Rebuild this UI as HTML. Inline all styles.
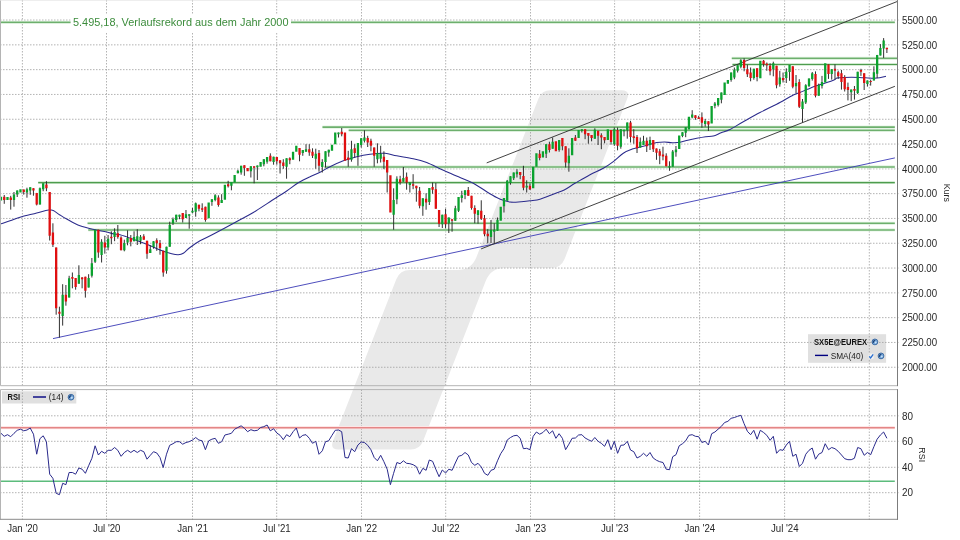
<!DOCTYPE html>
<html lang="de"><head><meta charset="utf-8"><title>SX5E Chart</title>
<style>html,body{margin:0;padding:0;background:#fff}svg{display:block}</style></head>
<body>
<svg width="960" height="540" viewBox="0 0 960 540" font-family="'Liberation Sans', Arial, sans-serif">
<rect width="960" height="540" fill="#fff"/>
<path d="M538.4 98.7Q541.7 90.3 550.7 90.3L621.5 90.3Q630.5 90.3 627.2 98.7L564.7 258.7Q561.0 268.0 551.0 268.0L504.8 268.0Q490.8 268.0 485.7 281.0L423.1 441.1Q419.8 449.5 410.8 449.5L338.7 449.5Q329.7 449.5 333.0 441.1L396.3 279.3Q399.9 270.0 409.9 270.0L457.4 270.0Q471.4 270.0 476.5 257.0Z" fill="#e9e9e9"/>
<rect x="808" y="334.2" width="78.1" height="28.6" fill="#e0e0e0"/>
<rect x="2" y="391.3" width="74.3" height="12.2" fill="#e0e0e0"/>
<g stroke="#9a9a9a" stroke-width="0.75" stroke-dasharray="1.5 1.5" fill="none">
<path d="M0 20.05H899.3"/>
<path d="M0 44.85H899.3"/>
<path d="M0 69.65H899.3"/>
<path d="M0 94.45H899.3"/>
<path d="M0 119.25H899.3"/>
<path d="M0 144.05H899.3"/>
<path d="M0 168.85H899.3"/>
<path d="M0 193.65H899.3"/>
<path d="M0 218.45H899.3"/>
<path d="M0 243.25H899.3"/>
<path d="M0 268.05H899.3"/>
<path d="M0 292.85H899.3"/>
<path d="M0 317.65H899.3"/>
<path d="M0 342.45H899.3"/>
<path d="M0 367.25H899.3"/>
<path d="M22.40 0V385.5"/>
<path d="M22.40 389.5V521"/>
<path d="M106.50 0V385.5"/>
<path d="M106.50 389.5V521"/>
<path d="M192.50 0V385.5"/>
<path d="M192.50 389.5V521"/>
<path d="M276.70 0V385.5"/>
<path d="M276.70 389.5V521"/>
<path d="M361.50 0V385.5"/>
<path d="M361.50 389.5V521"/>
<path d="M445.70 0V385.5"/>
<path d="M445.70 389.5V521"/>
<path d="M530.50 0V385.5"/>
<path d="M530.50 389.5V521"/>
<path d="M614.60 0V385.5"/>
<path d="M614.60 389.5V521"/>
<path d="M699.60 0V385.5"/>
<path d="M699.60 389.5V521"/>
<path d="M784.60 0V385.5"/>
<path d="M784.60 389.5V521"/>
<path d="M869.30 0V385.5"/>
<path d="M869.30 389.5V521"/>
<path d="M0 415.80H899.3"/>
<path d="M0 441.30H899.3"/>
<path d="M0 467.30H899.3"/>
<path d="M0 492.70H899.3"/>
</g>
<g stroke="#e2f3e2" stroke-width="3" fill="none" stroke-opacity="0.9">
<path d="M0.0 22.30H894.8"/>
<path d="M731.8 58.30H897.0"/>
<path d="M732.5 64.45H897.0"/>
<path d="M322.5 127.10H894.8"/>
<path d="M348.7 130.30H894.8"/>
<path d="M324.5 166.90H894.8"/>
<path d="M38.2 182.60H894.8"/>
<path d="M87.6 223.20H894.8"/>
<path d="M88.3 229.90H894.8"/>
</g>
<g stroke="#7cc47c" stroke-width="2.2" fill="none" stroke-opacity="0.25">
<path d="M0.0 22.30H894.8"/>
<path d="M731.8 58.30H897.0"/>
<path d="M732.5 64.45H897.0"/>
<path d="M322.5 127.10H894.8"/>
<path d="M348.7 130.30H894.8"/>
<path d="M324.5 166.90H894.8"/>
<path d="M38.2 182.60H894.8"/>
<path d="M87.6 223.20H894.8"/>
<path d="M88.3 229.90H894.8"/>
</g>
<g stroke="#4e9c4e" stroke-width="1.05" fill="none">
<path d="M0.0 22.30H894.8"/>
<path d="M731.8 58.30H897.0"/>
<path d="M732.5 64.45H897.0"/>
<path d="M322.5 127.10H894.8"/>
<path d="M348.7 130.30H894.8"/>
<path d="M324.5 166.90H894.8"/>
<path d="M38.2 182.60H894.8"/>
<path d="M87.6 223.20H894.8"/>
<path d="M88.3 229.90H894.8"/>
</g>
<rect x="70.6" y="14" width="220.4" height="18" fill="#fff"/>
<text x="73" y="26.3" font-size="10.9" fill="#3c8c3c" textLength="215.5" lengthAdjust="spacingAndGlyphs">5.495,18, Verlaufsrekord aus dem Jahr 2000</text>
<path d="M53 338.6L894.9 157.9" stroke="#3a3ab6" stroke-width="0.9" fill="none"/>
<path d="M486.7 162.9L897.5 1.4" stroke="#2c2c2c" stroke-width="0.9" fill="none"/>
<path d="M481.1 248.9L894.9 86.3" stroke="#2c2c2c" stroke-width="0.9" fill="none"/>
<path d="M0.0 224.2C1.7 223.6 6.4 222.1 10.0 220.8C13.6 219.6 17.2 218.0 21.7 216.7C26.1 215.4 32.7 214.1 36.7 213.0C40.7 211.9 43.6 210.9 45.8 210.4C48.0 209.9 48.8 210.1 50.0 210.1C51.2 210.1 51.6 209.7 53.3 210.5C55.0 211.3 57.8 213.6 60.0 215.0C62.2 216.4 63.4 217.2 66.7 219.0C70.0 220.8 75.3 224.0 80.0 225.8C84.7 227.6 90.5 228.7 95.0 229.7C99.5 230.7 103.4 231.2 106.7 232.0C110.0 232.8 112.8 233.8 115.0 234.2C117.2 234.6 117.0 233.9 120.0 234.7C123.0 235.5 128.9 237.6 133.3 239.2C137.8 240.8 142.2 242.4 146.7 244.2C151.1 246.0 155.8 248.4 160.0 250.0C164.2 251.6 168.6 252.9 171.7 253.7C174.8 254.5 176.4 254.8 178.3 254.7C180.2 254.6 181.4 254.5 183.3 253.3C185.2 252.1 187.2 249.6 190.0 247.5C192.8 245.4 195.8 243.2 200.0 240.8C204.2 238.4 209.2 236.4 215.0 233.3C220.8 230.2 228.6 226.0 235.0 222.5C241.4 219.0 247.5 216.0 253.3 212.5C259.1 209.0 264.4 205.3 270.0 201.7C275.6 198.1 282.0 194.2 286.7 191.0C291.4 187.8 294.4 185.2 298.3 182.8C302.2 180.4 306.4 178.4 310.0 176.7C313.6 174.9 316.7 174.0 320.0 172.3C323.3 170.6 326.1 168.6 330.0 166.7C333.9 164.8 338.9 162.5 343.3 160.8C347.8 159.1 352.2 157.8 356.7 156.7C361.1 155.6 365.3 154.8 370.0 154.2C374.7 153.6 380.6 153.0 385.0 153.3C389.4 153.6 392.0 154.9 396.7 155.8C401.4 156.7 408.3 157.6 413.3 158.7C418.3 159.8 422.2 160.8 426.7 162.5C431.1 164.2 436.7 167.2 440.0 168.7C443.3 170.2 443.4 170.2 446.7 171.7C450.0 173.2 455.6 175.6 460.0 177.5C464.4 179.4 468.9 180.9 473.3 183.3C477.8 185.7 482.8 189.3 486.7 191.7C490.6 194.1 493.9 196.1 496.7 197.5C499.5 198.9 501.1 199.6 503.3 200.3C505.5 201.1 507.5 201.7 510.0 202.0C512.5 202.3 515.0 202.2 518.3 202.0C521.6 201.8 526.4 201.3 530.0 200.8C533.6 200.3 536.7 200.1 540.0 199.2C543.3 198.3 547.2 196.6 550.0 195.5C552.8 194.4 554.6 193.7 557.0 192.8C559.4 191.9 561.2 191.6 564.2 190.0C567.2 188.4 570.7 185.9 575.0 183.3C579.3 180.8 585.3 177.2 590.0 174.7C594.7 172.2 599.4 170.5 603.3 168.3C607.2 166.1 610.0 164.2 613.3 161.7C616.6 159.2 620.0 155.5 623.3 153.3C626.6 151.1 630.0 149.9 633.3 148.7C636.6 147.5 640.5 147.0 643.3 146.3C646.1 145.6 647.8 145.0 650.0 144.4C652.2 143.8 654.3 143.0 656.7 142.6C659.1 142.2 661.8 142.0 664.4 142.0C667.0 142.0 669.6 142.6 672.2 142.7C674.8 142.8 677.4 142.7 680.0 142.3C682.6 141.9 685.0 140.9 687.8 140.2C690.6 139.5 693.7 138.9 696.7 138.3C699.7 137.7 702.8 137.1 705.6 136.7C708.4 136.3 710.7 136.8 713.3 136.1C715.9 135.4 718.3 133.9 721.1 132.8C723.9 131.7 726.3 131.3 730.0 129.5C733.7 127.7 738.3 124.5 743.3 121.7C748.3 118.9 754.4 115.4 760.0 112.5C765.6 109.6 771.2 107.1 776.7 104.2C782.2 101.3 789.4 97.0 793.3 95.0C797.2 93.0 797.6 93.5 800.0 92.5C802.4 91.5 804.9 90.3 807.4 89.3C809.9 88.3 812.3 87.2 814.8 86.3C817.3 85.4 819.0 85.1 822.2 84.1C825.4 83.0 831.5 81.0 834.0 80.0C836.5 79.0 835.3 78.5 837.0 78.1C838.7 77.7 840.7 77.5 844.4 77.4C848.1 77.3 855.1 77.3 859.3 77.4C863.5 77.5 866.6 78.0 869.6 78.1C872.6 78.2 874.3 78.4 877.0 78.1C879.7 77.8 884.5 76.5 886.0 76.2" stroke="#2b2b8c" stroke-width="1.05" fill="none"/>
<path d="M4.25 195.0V203.8M10.73 195.8V209.6M13.98 192.0V206.7M17.23 190.4V197.0M23.71 189.6V194.6M26.96 187.7V197.7M30.21 187.3V194.8M33.45 188.2V195.7M36.70 192.9V205.4M39.94 187.5V204.6M43.19 183.3V191.2M46.43 181.2V191.2M49.68 192.1V240.5M52.92 223.3V247.0M56.16 247.5V314.7M59.41 306.7V337.6M62.66 284.2V325.6M65.90 285.0V305.7M69.14 275.8V297.5M72.39 272.5V288.3M75.64 278.0V289.7M78.88 265.3V283.7M82.12 277.0V288.3M85.37 276.7V297.6M88.62 274.2V287.5M91.86 258.0V277.5M95.11 229.7V263.0M98.35 229.7V257.8M101.59 239.2V262.5M104.84 235.8V253.7M108.09 235.0V250.3M111.33 231.3V244.2M114.58 228.3V241.2M117.82 225.0V238.7M121.06 236.3V250.3M124.31 239.7V251.3M127.56 230.3V245.3M130.80 235.0V246.3M134.05 231.3V241.2M137.29 229.2V245.0M140.53 235.0V244.2M143.78 234.2V239.7M147.03 240.8V258.8M150.27 245.3V253.0M153.52 241.2V248.7M156.76 238.3V250.8M160.00 240.0V254.7M163.25 250.8V276.7M166.50 246.7V273.7M169.74 221.7V246.7M172.99 217.5V225.0M176.23 214.7V222.0M179.47 214.7V219.2M182.72 213.0V222.5M185.97 210.0V218.0M189.21 214.2V228.7M192.46 208.0V213.0M195.70 202.5V216.7M198.94 204.7V211.3M202.19 203.3V212.0M205.44 206.7V221.7M211.93 199.2V205.8M215.17 194.2V201.3M218.42 195.3V206.7M221.66 194.2V203.0M228.15 180.8V187.5M231.40 182.0V190.3M237.89 169.7V173.3M241.13 165.8V174.7M244.38 165.3V175.8M250.87 166.2V177.5M254.11 166.3V183.3M257.36 165.5V180.0M263.85 159.2V166.3M267.09 157.0V163.7M270.34 153.3V161.3M273.58 156.7V164.7M276.82 157.0V164.7M280.07 160.2V173.5M283.31 159.2V168.8M286.56 158.3V178.7M289.81 157.3V164.2M299.54 148.0V161.3M302.79 150.0V155.8M306.03 144.2V151.7M309.28 144.2V155.8M312.52 148.3V158.0M315.76 148.7V168.7M319.01 150.0V171.7M322.25 159.2V172.5M325.50 151.3V167.5M328.75 149.7V156.7M338.48 132.5V137.5M341.73 128.0V136.3M348.22 150.8V166.7M351.46 140.8V161.7M354.70 144.2V157.5M357.95 143.0V165.8M361.19 138.3V147.5M364.44 130.3V142.5M367.69 135.8V147.0M370.93 138.7V151.3M374.18 147.5V166.7M377.42 143.3V163.3M380.67 145.8V162.5M383.91 151.3V169.2M387.16 160.0V192.5M393.65 188.3V229.7M396.89 176.3V204.2M400.13 175.8V184.7M403.38 167.0V181.7M406.62 172.5V189.7M409.87 182.5V192.5M413.12 174.2V189.2M416.36 185.8V201.7M419.61 187.0V208.3M422.85 198.3V215.8M426.10 193.3V209.7M429.34 188.0V205.0M432.59 182.5V193.7M435.83 183.0V208.7M439.07 210.0V227.0M442.32 214.7V228.0M445.56 208.7V228.3M448.81 217.5V233.0M452.06 219.2V231.7M455.30 205.8V220.8M458.55 197.0V212.0M461.79 190.8V202.5M465.04 190.3V199.2M468.28 187.0V195.8M471.53 195.8V209.7M474.77 205.3V223.3M478.02 210.3V223.7M481.26 200.3V220.0M484.50 215.0V236.3M487.75 229.2V243.3M491.00 220.0V243.0M494.24 223.3V243.7M497.49 217.5V230.8M503.98 198.0V212.5M507.22 180.0V200.8M510.47 176.3V184.7M513.71 172.5V180.0M516.96 169.2V177.5M520.20 172.0V179.2M523.45 165.8V190.3M526.69 180.3V192.5M529.94 183.3V190.0M539.67 150.0V160.3M546.16 144.2V158.0M549.40 141.7V152.5M552.65 137.5V148.7M559.14 140.0V151.7M562.38 138.0V150.3M565.63 146.3V167.5M568.88 148.3V171.7M575.37 135.0V140.8M581.86 129.2V132.5M585.10 129.2V139.2M588.35 133.0V143.7M591.59 135.0V141.3M594.84 128.3V138.7M598.08 130.8V145.0M601.33 133.3V149.2M604.57 137.0V143.3M611.06 130.0V144.7M614.31 127.5V145.8M617.55 127.5V150.3M620.80 129.2V148.7M624.04 129.7V136.3M627.28 122.5V138.7M630.53 120.8V142.5M633.77 129.2V143.7M637.02 135.0V153.0M640.26 137.5V147.5M643.51 135.8V145.0M646.75 137.5V152.0M650.00 136.7V150.0M653.25 140.0V152.0M656.49 148.5V159.8M659.74 148.9V164.2M662.98 146.7V160.3M666.23 153.3V166.3M669.47 161.3V170.8M672.72 150.0V166.7M675.96 146.0V156.7M682.45 132.2V137.2M685.70 127.2V137.2M692.19 110.2V118.3M695.43 115.3V119.8M698.68 115.8V118.9M701.92 112.4V127.7M705.17 118.9V126.7M708.41 121.3V131.0M714.90 102.0V108.3M718.14 98.0V106.5M721.39 92.5V103.3M731.12 72.5V81.7M734.37 67.5V79.2M737.62 65.3V72.5M740.86 59.2V68.3M744.11 58.3V71.3M747.35 64.7V77.0M750.60 67.5V81.3M753.84 68.7V79.7M757.09 68.3V81.3M763.58 60.0V66.7M766.82 62.5V70.8M770.07 63.3V75.3M773.31 61.7V76.3M776.56 65.8V88.3M779.80 70.8V86.7M783.05 72.5V82.5M786.29 68.3V83.0M789.54 65.0V80.8M792.78 66.3V88.3M796.02 75.0V93.3M799.27 79.2V108.0M802.51 99.0V122.5M805.76 84.2V104.0M809.00 78.4V87.0M812.25 72.0V80.6M815.50 71.4V97.4M818.74 83.6V95.8M821.99 75.9V88.5M828.48 64.4V78.9M831.72 69.3V79.6M834.97 64.4V79.6M838.21 70.7V78.9M841.46 70.0V89.6M844.70 75.2V91.5M847.95 82.6V100.4M851.19 89.6V101.1M854.44 86.0V99.6M857.68 71.8V94.0M860.93 68.8V75.9M864.17 73.3V90.0M867.42 80.4V86.6M870.66 79.6V85.6M873.90 66.3V80.4M877.15 54.9V78.1M880.39 44.1V55.5M883.64 38.1V57.9M886.88 47.8V53.0" stroke="#262626" stroke-width="0.95" fill="none"/>
<path d="M-0.15 196.8h2.3v3.6h-2.3zM6.34 197.0h2.3v3.0h-2.3zM12.83 194.6h2.3v5.4h-2.3zM16.08 190.4h2.3v4.2h-2.3zM19.32 189.3h2.3v3.2h-2.3zM25.81 189.3h2.3v3.2h-2.3zM29.06 187.3h2.3v3.1h-2.3zM38.79 188.3h2.3v16.3h-2.3zM42.04 183.3h2.3v5.9h-2.3zM61.51 294.7h2.3v21.4h-2.3zM67.99 278.3h2.3v19.2h-2.3zM77.73 275.0h2.3v8.7h-2.3zM87.47 278.0h2.3v9.5h-2.3zM90.71 263.3h2.3v12.5h-2.3zM93.95 229.7h2.3v32.0h-2.3zM100.44 241.7h2.3v13.3h-2.3zM106.94 238.7h2.3v8.8h-2.3zM113.42 232.0h2.3v5.0h-2.3zM123.16 243.0h2.3v7.3h-2.3zM126.41 238.0h2.3v4.5h-2.3zM132.90 237.0h2.3v4.2h-2.3zM136.14 236.3h2.3v4.5h-2.3zM139.38 236.7h2.3v4.1h-2.3zM149.12 249.2h2.3v3.8h-2.3zM152.37 241.2h2.3v5.8h-2.3zM165.34 246.7h2.3v24.1h-2.3zM168.59 225.0h2.3v21.7h-2.3zM171.84 219.2h2.3v4.1h-2.3zM175.08 214.7h2.3v5.3h-2.3zM178.32 214.7h2.3v2.0h-2.3zM184.81 214.2h2.3v3.8h-2.3zM188.06 214.2h2.3v1.6h-2.3zM191.31 210.8h2.3v1.7h-2.3zM194.55 203.3h2.3v8.4h-2.3zM207.53 202.5h2.3v15.8h-2.3zM210.78 199.2h2.3v2.8h-2.3zM214.02 195.3h2.3v4.7h-2.3zM220.51 200.0h2.3v3.0h-2.3zM223.75 184.7h2.3v15.0h-2.3zM230.25 182.0h2.3v3.8h-2.3zM233.49 175.0h2.3v7.5h-2.3zM236.74 170.8h2.3v2.5h-2.3zM239.98 165.8h2.3v6.7h-2.3zM249.72 166.2h2.3v5.1h-2.3zM256.21 165.5h2.3v1.7h-2.3zM259.45 162.0h2.3v4.7h-2.3zM262.70 159.2h2.3v5.0h-2.3zM265.94 157.0h2.3v4.7h-2.3zM272.43 156.7h2.3v5.3h-2.3zM285.41 158.3h2.3v8.4h-2.3zM291.90 151.7h2.3v8.0h-2.3zM295.15 145.8h2.3v5.9h-2.3zM301.64 150.0h2.3v3.0h-2.3zM304.88 149.2h2.3v2.5h-2.3zM314.62 153.7h2.3v5.0h-2.3zM321.11 162.0h2.3v5.0h-2.3zM324.35 151.3h2.3v10.7h-2.3zM327.60 149.7h2.3v2.8h-2.3zM330.84 144.7h2.3v6.1h-2.3zM334.09 132.5h2.3v11.7h-2.3zM337.33 132.5h2.3v1.7h-2.3zM350.31 149.2h2.3v10.5h-2.3zM356.80 143.0h2.3v12.8h-2.3zM360.05 138.3h2.3v6.7h-2.3zM363.29 137.5h2.3v3.3h-2.3zM376.27 153.0h2.3v6.2h-2.3zM379.52 153.7h2.3v5.0h-2.3zM392.50 200.0h2.3v14.7h-2.3zM395.74 178.7h2.3v20.5h-2.3zM402.23 178.0h2.3v3.7h-2.3zM408.72 182.5h2.3v2.5h-2.3zM421.70 198.3h2.3v8.0h-2.3zM428.19 188.0h2.3v14.0h-2.3zM441.17 214.7h2.3v9.5h-2.3zM447.66 217.5h2.3v5.8h-2.3zM454.15 208.3h2.3v12.5h-2.3zM457.40 197.0h2.3v13.8h-2.3zM460.64 195.3h2.3v2.7h-2.3zM463.89 190.3h2.3v4.7h-2.3zM476.87 210.3h2.3v4.7h-2.3zM489.85 230.0h2.3v7.0h-2.3zM493.09 229.7h2.3v2.0h-2.3zM496.34 219.7h2.3v11.1h-2.3zM499.58 206.7h2.3v14.1h-2.3zM502.83 198.0h2.3v8.3h-2.3zM506.07 180.8h2.3v20.0h-2.3zM509.32 176.3h2.3v6.7h-2.3zM512.56 172.5h2.3v5.8h-2.3zM515.81 171.7h2.3v2.5h-2.3zM525.54 185.8h2.3v1.7h-2.3zM532.03 166.8h2.3v21.4h-2.3zM535.28 153.3h2.3v13.4h-2.3zM541.76 151.3h2.3v6.2h-2.3zM545.01 144.2h2.3v9.5h-2.3zM551.50 141.7h2.3v7.0h-2.3zM557.99 140.0h2.3v10.0h-2.3zM567.73 155.8h2.3v7.5h-2.3zM570.97 138.0h2.3v17.3h-2.3zM577.46 130.0h2.3v8.0h-2.3zM580.71 129.2h2.3v1.6h-2.3zM593.69 129.7h2.3v9.0h-2.3zM606.67 129.2h2.3v10.8h-2.3zM613.16 129.2h2.3v15.0h-2.3zM619.65 129.2h2.3v17.5h-2.3zM622.89 129.7h2.3v1.6h-2.3zM626.13 122.5h2.3v7.8h-2.3zM639.12 141.7h2.3v5.8h-2.3zM642.36 140.8h2.3v4.2h-2.3zM648.85 140.0h2.3v5.0h-2.3zM668.32 166.3h2.3v1.2h-2.3zM671.57 151.5h2.3v15.2h-2.3zM674.81 149.5h2.3v2.8h-2.3zM678.06 135.5h2.3v13.5h-2.3zM681.30 132.2h2.3v3.8h-2.3zM684.55 127.2h2.3v5.6h-2.3zM687.79 116.7h2.3v12.7h-2.3zM691.04 114.4h2.3v3.1h-2.3zM704.02 121.0h2.3v3.0h-2.3zM710.50 106.0h2.3v17.5h-2.3zM713.75 103.5h2.3v2.2h-2.3zM717.00 98.0h2.3v7.0h-2.3zM720.24 92.5h2.3v7.2h-2.3zM723.49 82.5h2.3v12.5h-2.3zM726.73 80.0h2.3v3.7h-2.3zM729.98 72.5h2.3v7.5h-2.3zM733.22 69.7h2.3v7.8h-2.3zM736.47 65.3h2.3v5.5h-2.3zM739.71 60.3h2.3v6.4h-2.3zM752.69 68.7h2.3v9.3h-2.3zM759.18 60.8h2.3v17.5h-2.3zM772.16 63.3h2.3v5.9h-2.3zM778.65 77.5h2.3v6.7h-2.3zM785.14 71.7h2.3v6.3h-2.3zM788.39 65.0h2.3v7.0h-2.3zM794.88 83.0h2.3v3.3h-2.3zM801.37 101.4h2.3v7.6h-2.3zM804.61 85.2h2.3v17.3h-2.3zM807.86 78.4h2.3v7.6h-2.3zM811.10 73.2h2.3v5.8h-2.3zM817.59 84.9h2.3v10.9h-2.3zM820.84 81.9h2.3v4.1h-2.3zM824.08 63.3h2.3v19.3h-2.3zM830.57 69.3h2.3v4.8h-2.3zM850.04 89.6h2.3v2.6h-2.3zM856.53 71.8h2.3v21.2h-2.3zM866.27 80.4h2.3v3.7h-2.3zM872.75 72.2h2.3v8.2h-2.3zM876.00 54.9h2.3v18.8h-2.3zM879.25 48.1h2.3v7.4h-2.3zM882.49 40.4h2.3v8.1h-2.3z" fill="#0aa22e"/>
<path d="M3.10 196.8h2.3v3.2h-2.3zM9.58 197.5h2.3v2.5h-2.3zM22.57 189.6h2.3v2.4h-2.3zM32.30 188.2h2.3v2.2h-2.3zM35.55 192.9h2.3v11.7h-2.3zM45.28 184.6h2.3v3.7h-2.3zM48.53 192.1h2.3v43.7h-2.3zM51.77 232.5h2.3v12.3h-2.3zM55.02 247.5h2.3v60.8h-2.3zM58.26 311.7h2.3v2.0h-2.3zM64.75 294.7h2.3v6.7h-2.3zM71.24 277.0h2.3v1.7h-2.3zM74.48 278.0h2.3v9.0h-2.3zM80.97 277.5h2.3v1.7h-2.3zM84.22 276.7h2.3v14.1h-2.3zM97.20 229.7h2.3v22.8h-2.3zM103.69 242.5h2.3v5.0h-2.3zM110.18 236.7h2.3v1.6h-2.3zM116.67 233.3h2.3v3.7h-2.3zM119.91 237.5h2.3v12.8h-2.3zM129.65 238.0h2.3v3.7h-2.3zM142.63 236.3h2.3v3.4h-2.3zM145.88 240.8h2.3v12.9h-2.3zM155.61 240.3h2.3v3.0h-2.3zM158.85 243.0h2.3v5.0h-2.3zM162.10 250.8h2.3v21.7h-2.3zM181.57 213.0h2.3v6.2h-2.3zM197.79 204.7h2.3v4.0h-2.3zM201.04 208.3h2.3v1.4h-2.3zM204.28 206.7h2.3v13.3h-2.3zM217.27 197.5h2.3v7.5h-2.3zM227.00 184.2h2.3v2.1h-2.3zM243.22 165.3h2.3v2.7h-2.3zM246.47 168.0h2.3v3.3h-2.3zM252.96 166.3h2.3v1.4h-2.3zM269.19 155.8h2.3v5.5h-2.3zM275.68 157.0h2.3v4.3h-2.3zM278.92 160.2h2.3v3.0h-2.3zM282.17 162.5h2.3v3.5h-2.3zM288.66 158.3h2.3v1.9h-2.3zM298.39 148.0h2.3v6.7h-2.3zM308.13 149.2h2.3v3.3h-2.3zM311.37 151.7h2.3v4.1h-2.3zM317.86 153.0h2.3v12.8h-2.3zM340.58 131.7h2.3v2.5h-2.3zM343.82 132.5h2.3v28.3h-2.3zM347.07 157.5h2.3v2.5h-2.3zM353.56 148.3h2.3v4.7h-2.3zM366.54 138.0h2.3v4.5h-2.3zM369.78 140.8h2.3v5.0h-2.3zM373.03 147.5h2.3v8.3h-2.3zM382.76 156.7h2.3v5.0h-2.3zM386.01 160.0h2.3v12.5h-2.3zM389.25 175.3h2.3v37.2h-2.3zM398.99 179.2h2.3v3.3h-2.3zM405.48 176.7h2.3v5.8h-2.3zM411.97 184.2h2.3v1.6h-2.3zM415.21 185.8h2.3v2.5h-2.3zM418.46 190.8h2.3v15.0h-2.3zM424.95 198.7h2.3v3.8h-2.3zM431.44 187.0h2.3v2.7h-2.3zM434.68 189.2h2.3v19.5h-2.3zM437.93 210.0h2.3v13.7h-2.3zM444.42 214.2h2.3v10.0h-2.3zM450.91 219.2h2.3v1.6h-2.3zM467.13 190.0h2.3v5.8h-2.3zM470.38 195.8h2.3v12.2h-2.3zM473.62 208.0h2.3v5.7h-2.3zM480.11 210.8h2.3v7.9h-2.3zM483.36 218.3h2.3v15.9h-2.3zM486.60 233.7h2.3v2.6h-2.3zM519.05 172.0h2.3v3.0h-2.3zM522.30 176.0h2.3v11.7h-2.3zM528.79 185.8h2.3v3.4h-2.3zM538.52 153.7h2.3v4.3h-2.3zM548.25 144.2h2.3v5.8h-2.3zM554.75 141.3h2.3v10.0h-2.3zM561.24 138.0h2.3v8.3h-2.3zM564.48 146.3h2.3v16.2h-2.3zM574.22 137.5h2.3v3.3h-2.3zM583.95 129.2h2.3v5.0h-2.3zM587.20 133.0h2.3v2.8h-2.3zM590.44 135.0h2.3v3.0h-2.3zM596.93 130.8h2.3v5.0h-2.3zM600.18 135.3h2.3v2.2h-2.3zM603.42 137.0h2.3v3.3h-2.3zM609.91 130.0h2.3v12.0h-2.3zM616.40 130.0h2.3v15.8h-2.3zM629.38 122.5h2.3v14.5h-2.3zM632.62 136.3h2.3v1.7h-2.3zM635.87 137.0h2.3v11.3h-2.3zM645.61 140.8h2.3v5.5h-2.3zM652.10 140.0h2.3v9.2h-2.3zM655.34 148.5h2.3v4.2h-2.3zM658.59 151.3h2.3v4.4h-2.3zM661.83 154.5h2.3v2.0h-2.3zM665.08 155.7h2.3v10.6h-2.3zM694.28 115.3h2.3v2.7h-2.3zM697.53 117.5h2.3v1.4h-2.3zM700.77 117.2h2.3v5.5h-2.3zM707.26 121.3h2.3v3.2h-2.3zM742.96 60.0h2.3v8.0h-2.3zM746.20 69.2h2.3v5.0h-2.3zM749.45 72.5h2.3v5.5h-2.3zM755.94 68.3h2.3v8.7h-2.3zM762.43 60.8h2.3v3.4h-2.3zM765.67 63.7h2.3v1.6h-2.3zM768.92 65.8h2.3v5.5h-2.3zM775.41 65.8h2.3v19.5h-2.3zM781.90 78.0h2.3v2.3h-2.3zM791.63 66.3h2.3v20.4h-2.3zM798.12 82.0h2.3v24.7h-2.3zM814.35 74.0h2.3v21.8h-2.3zM827.33 64.4h2.3v9.7h-2.3zM833.82 68.8h2.3v1.9h-2.3zM837.06 72.2h2.3v4.0h-2.3zM840.31 73.3h2.3v8.6h-2.3zM843.55 77.1h2.3v12.2h-2.3zM846.80 87.0h2.3v3.0h-2.3zM853.29 89.0h2.3v1.7h-2.3zM859.78 70.0h2.3v1.8h-2.3zM863.02 73.3h2.3v9.7h-2.3zM869.51 81.1h2.3v1.0h-2.3zM885.74 47.8h2.3v1.5h-2.3z" fill="#e00f10"/>
<path d="M0 427.7H894.8" stroke="#fde6e6" stroke-width="3.2" fill="none"/>
<path d="M0 427.7H894.8" stroke="#e48686" stroke-width="1.5" fill="none"/>
<path d="M0 481.2H894.8" stroke="#5cbc7c" stroke-width="1.5" fill="none"/>
<path d="M1.0 433.3L4.2 436.3L7.5 434.7L10.7 436.7L14.0 433.3L17.2 430.3L20.5 429.2L23.7 430.8L27.0 430.0L30.2 428.0L33.5 434.2L36.7 454.2L39.9 438.7L43.2 435.8L46.4 441.7L49.7 474.2L52.9 478.3L56.2 493.3L59.4 494.7L62.7 483.3L65.9 484.7L69.1 472.5L72.4 472.5L75.6 474.2L78.9 468.0L82.1 469.2L85.4 473.3L88.6 465.8L91.9 458.3L95.1 445.8L98.4 455.0L101.6 451.3L104.8 453.3L108.1 450.3L111.3 450.3L114.6 447.5L117.8 450.3L121.1 456.3L124.3 452.5L127.6 450.3L130.8 452.5L134.0 450.3L137.3 452.5L140.5 450.3L143.8 451.7L147.0 459.2L150.3 455.3L153.5 451.7L156.8 453.0L160.0 457.5L163.2 467.5L166.5 454.2L169.7 445.3L173.0 443.7L176.2 441.7L179.5 441.7L182.7 444.2L186.0 442.5L189.2 441.7L192.5 440.0L195.7 437.5L198.9 440.0L202.2 440.8L205.4 449.7L208.7 440.8L211.9 439.2L215.2 438.3L218.4 443.3L221.7 441.7L224.9 435.0L228.2 434.2L231.4 433.3L234.6 429.2L237.9 427.5L241.1 425.8L244.4 428.3L247.6 431.7L250.9 429.7L254.1 430.8L257.4 430.3L260.6 427.5L263.8 426.7L267.1 425.0L270.3 430.8L273.6 428.7L276.8 433.0L280.1 435.3L283.3 439.7L286.6 434.7L289.8 436.7L293.1 431.7L296.3 428.0L299.5 438.0L302.8 435.3L306.0 434.7L309.3 438.3L312.5 443.3L315.8 441.3L319.0 454.3L322.3 450.8L325.5 441.7L328.7 440.8L332.0 435.3L335.2 430.3L338.5 430.0L341.7 431.7L345.0 457.5L348.2 458.0L351.5 448.7L354.7 451.7L357.9 445.0L361.2 442.0L364.4 442.5L367.7 445.3L370.9 449.7L374.2 457.5L377.4 460.8L380.7 455.3L383.9 461.7L387.2 469.2L390.4 484.7L393.6 473.3L396.9 462.5L400.1 463.7L403.4 460.8L406.6 463.3L409.9 463.7L413.1 464.7L416.4 466.7L419.6 474.2L422.9 468.3L426.1 470.3L429.3 460.0L432.6 461.3L435.8 469.2L439.1 476.7L442.3 470.0L445.6 473.0L448.8 469.2L452.1 470.3L455.3 463.0L458.5 456.3L461.8 455.3L465.0 452.5L468.3 455.0L471.5 462.5L474.8 465.3L478.0 463.3L481.3 467.0L484.5 473.3L487.8 475.3L491.0 470.3L494.2 469.2L497.5 460.8L500.7 453.7L504.0 448.7L507.2 440.0L510.5 437.5L513.7 435.8L517.0 435.3L520.2 438.3L523.4 448.7L526.7 448.3L529.9 449.7L533.2 436.3L536.4 432.0L539.7 434.2L542.9 432.5L546.2 429.2L549.4 433.7L552.6 430.8L555.9 438.3L559.1 433.7L562.4 438.3L565.6 449.7L568.9 444.2L572.1 438.3L575.4 438.0L578.6 435.0L581.9 434.7L585.1 438.0L588.3 439.7L591.6 441.3L594.8 437.5L598.1 441.3L601.3 443.3L604.6 446.3L607.8 439.7L611.1 449.7L614.3 441.3L617.6 453.3L620.8 445.3L624.0 445.0L627.3 441.3L630.5 450.0L633.8 451.7L637.0 458.0L640.3 456.3L643.5 453.3L646.8 456.3L650.0 452.5L653.2 458.0L656.5 460.3L659.7 461.7L663.0 462.5L666.2 469.2L669.5 469.7L672.7 456.7L676.0 454.7L679.2 445.8L682.5 443.7L685.7 440.8L688.9 435.3L692.2 434.7L695.4 436.3L698.7 436.7L701.9 442.5L705.2 441.3L708.4 445.0L711.7 433.7L714.9 432.0L718.1 429.2L721.4 426.3L724.6 422.5L727.9 421.3L731.1 418.3L734.4 417.5L737.6 416.3L740.9 415.3L744.1 423.7L747.4 431.3L750.6 434.7L753.8 430.3L757.1 439.2L760.3 430.3L763.6 432.5L766.8 435.3L770.1 440.3L773.3 436.3L776.6 453.3L779.8 449.7L783.0 450.3L786.3 445.0L789.5 441.3L792.8 456.3L796.0 454.2L799.3 466.5L802.5 463.3L805.8 454.2L809.0 450.3L812.2 448.0L815.5 459.2L818.7 454.2L822.0 452.5L825.2 443.7L828.5 449.7L831.7 447.5L835.0 448.7L838.2 451.3L841.5 455.0L844.7 458.7L847.9 459.7L851.2 459.7L854.4 458.3L857.7 447.5L860.9 448.7L864.2 455.3L867.4 452.5L870.7 454.7L873.9 446.7L877.1 439.2L880.4 435.0L883.6 432.0L886.9 438.3" stroke="#2a2a8c" stroke-width="1" fill="none" stroke-linejoin="round"/>
<g stroke-width="1" fill="none">
<path d="M0.5 0V385.7H897" stroke="#b4b4b4"/>
<path d="M0 0.3H897" stroke="#e4e4e4" stroke-width="0.8"/>
<path d="M0.5 519.3V389.6H897" stroke="#b4b4b4"/>
<path d="M0 519.3H898" stroke="#8a8a8a"/>
<path d="M897.5 0V386.2M897.5 389.1V519.8" stroke="#7c7c7c"/>
</g>
<text x="814" y="344.9" font-size="8.25" font-weight="bold" fill="#111" textLength="53.2" lengthAdjust="spacingAndGlyphs">SX5E@EUREX</text>
<path d="M815 355.4H828" stroke="#000080" stroke-width="1.4"/>
<text x="830.7" y="358.9" font-size="8.25" fill="#222">SMA(40)</text>
<circle cx="874.9" cy="341.9" r="2.9" fill="#78aadc" stroke="#2c5a94" stroke-width="0.8"/>
<path d="M872.5 342.2q0.4 -2.2 2.6 -2.5q0.8 1 -0.4 1.6q-1 0.2 -0.8 1.4q-0.8 0.6 -1.4 -0.5z" fill="#1d3f73"/>
<path d="M875.1 341.7q1.2 -0.6 1.6 0.6q-0.4 1.2 -1.5 1.3q-0.6 -0.9 -0.1 -1.9z" fill="#cfe3f6"/>
<circle cx="881.0" cy="355.9" r="2.9" fill="#78aadc" stroke="#2c5a94" stroke-width="0.8"/>
<path d="M878.6 356.2q0.4 -2.2 2.6 -2.5q0.8 1 -0.4 1.6q-1 0.2 -0.8 1.4q-0.8 0.6 -1.4 -0.5z" fill="#1d3f73"/>
<path d="M881.2 355.7q1.2 -0.6 1.6 0.6q-0.4 1.2 -1.5 1.3q-0.6 -0.9 -0.1 -1.9z" fill="#cfe3f6"/>
<rect x="868.3" y="353.6" width="5.4" height="5.4" rx="1" fill="#fff" fill-opacity="0.55"/>
<path d="M869.2 356.3l1.4 1.7l2.6-3.6" stroke="#2a6fd0" stroke-width="1.3" fill="none"/>
<text x="7.6" y="400.3" font-size="8.25" font-weight="bold" fill="#111" textLength="12.6" lengthAdjust="spacingAndGlyphs">RSI</text>
<path d="M33 397H46" stroke="#000080" stroke-width="1.4"/>
<text x="48.8" y="400.3" font-size="8.25" fill="#222">(14)</text>
<circle cx="71.0" cy="397.2" r="2.9" fill="#78aadc" stroke="#2c5a94" stroke-width="0.8"/>
<path d="M68.6 397.5q0.4 -2.2 2.6 -2.5q0.8 1 -0.4 1.6q-1 0.2 -0.8 1.4q-0.8 0.6 -1.4 -0.5z" fill="#1d3f73"/>
<path d="M71.2 397.0q1.2 -0.6 1.6 0.6q-0.4 1.2 -1.5 1.3q-0.6 -0.9 -0.1 -1.9z" fill="#cfe3f6"/>
<g font-size="10.2" fill="#262626">
<text x="902.1" y="23.8" textLength="35" lengthAdjust="spacingAndGlyphs">5500.00</text>
<text x="902.1" y="48.6" textLength="35" lengthAdjust="spacingAndGlyphs">5250.00</text>
<text x="902.1" y="73.4" textLength="35" lengthAdjust="spacingAndGlyphs">5000.00</text>
<text x="902.1" y="98.2" textLength="35" lengthAdjust="spacingAndGlyphs">4750.00</text>
<text x="902.1" y="123.0" textLength="35" lengthAdjust="spacingAndGlyphs">4500.00</text>
<text x="902.1" y="147.8" textLength="35" lengthAdjust="spacingAndGlyphs">4250.00</text>
<text x="902.1" y="172.6" textLength="35" lengthAdjust="spacingAndGlyphs">4000.00</text>
<text x="902.1" y="197.3" textLength="35" lengthAdjust="spacingAndGlyphs">3750.00</text>
<text x="902.1" y="222.2" textLength="35" lengthAdjust="spacingAndGlyphs">3500.00</text>
<text x="902.1" y="247.0" textLength="35" lengthAdjust="spacingAndGlyphs">3250.00</text>
<text x="902.1" y="271.8" textLength="35" lengthAdjust="spacingAndGlyphs">3000.00</text>
<text x="902.1" y="296.6" textLength="35" lengthAdjust="spacingAndGlyphs">2750.00</text>
<text x="902.1" y="321.4" textLength="35" lengthAdjust="spacingAndGlyphs">2500.00</text>
<text x="902.1" y="346.2" textLength="35" lengthAdjust="spacingAndGlyphs">2250.00</text>
<text x="902.1" y="370.9" textLength="35" lengthAdjust="spacingAndGlyphs">2000.00</text>
<text x="902.1" y="419.5" textLength="11" lengthAdjust="spacingAndGlyphs">80</text>
<text x="902.1" y="445.0" textLength="11" lengthAdjust="spacingAndGlyphs">60</text>
<text x="902.1" y="471.0" textLength="11" lengthAdjust="spacingAndGlyphs">40</text>
<text x="902.1" y="496.4" textLength="11" lengthAdjust="spacingAndGlyphs">20</text>
<text x="7.2" y="531.8" textLength="30.8" lengthAdjust="spacingAndGlyphs">Jan '20</text>
<text x="92.9" y="531.8" textLength="27.6" lengthAdjust="spacingAndGlyphs">Jul '20</text>
<text x="177.3" y="531.8" textLength="30.8" lengthAdjust="spacingAndGlyphs">Jan '21</text>
<text x="263.1" y="531.8" textLength="27.6" lengthAdjust="spacingAndGlyphs">Jul '21</text>
<text x="346.3" y="531.8" textLength="30.8" lengthAdjust="spacingAndGlyphs">Jan '22</text>
<text x="432.1" y="531.8" textLength="27.6" lengthAdjust="spacingAndGlyphs">Jul '22</text>
<text x="515.3" y="531.8" textLength="30.8" lengthAdjust="spacingAndGlyphs">Jan '23</text>
<text x="601.0" y="531.8" textLength="27.6" lengthAdjust="spacingAndGlyphs">Jul '23</text>
<text x="684.4" y="531.8" textLength="30.8" lengthAdjust="spacingAndGlyphs">Jan '24</text>
<text x="771.0" y="531.8" textLength="27.6" lengthAdjust="spacingAndGlyphs">Jul '24</text>
<text transform="translate(943.9 183.8) rotate(90)" font-size="9.9" textLength="18.1" lengthAdjust="spacingAndGlyphs">Kurs</text>
<text transform="translate(919.3 447.3) rotate(90)" font-size="9.9" textLength="14.8" lengthAdjust="spacingAndGlyphs">RSI</text>
</g>
</svg>
</body></html>
